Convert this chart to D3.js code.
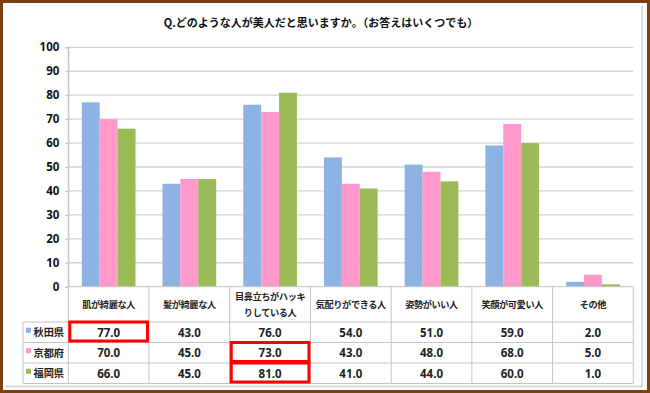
<!DOCTYPE html>
<html><head><meta charset="utf-8">
<script src="https://cdn.jsdelivr.net/npm/d3@7"></script>
<style>
html,body{margin:0;padding:0;background:#fff;}
svg{display:block;font-family:"Noto Sans CJK JP","Noto Sans",sans-serif;font-weight:bold;}
</style></head>
<body><svg id="c" width="650" height="393"></svg>
<script>
const title = "Q.どのような人が美人だと思いますか。（お答えはいくつでも）";
const categories = ["肌が綺麗な人","髪が綺麗な人","目鼻立ちがハッキ\nりしている人","気配りができる人","姿勢がいい人","笑顔が可愛い人","その他"];
const seriesNames = ["秋田県","京都府","福岡県"];
const akita = [77,43,76,54,51,59,2];
const kyoto = [70,45,73,43,48,68,5];
const fukuoka = [66,45,81,41,44,60,1];
const yTicks = [0,10,20,30,40,50,60,70,80,90,100];
const highlights = [[0,0],[1,2],[2,2]]; // [series index, category index]
const colors = ["#8db3e2","#ff99cc","#9bbb59"];

const seriesValues = [akita, kyoto, fukuoka];
const svg = d3.select("#c");
const W = 650, H = 393;
const plotL = 68.3, plotR = 633.3, plotT = 47.3, plotB = 286.7;
const tableL = 23, rowH = 20.5, headerB = 322;

// frame
svg.append("rect").attr("x",0).attr("y",0).attr("width",W).attr("height",H).attr("fill","#fff");
svg.append("path").attr("d",`M642,6V386.5H6`).attr("fill","none").attr("stroke","#d0d0d0").attr("stroke-width",1.5);
svg.append("rect").attr("x",1.5).attr("y",1.5).attr("width",W-3).attr("height",H-3)
  .attr("fill","none").attr("stroke","#7a4010").attr("stroke-width",3);

svg.append("text").attr("x",321).attr("y",27).attr("text-anchor","middle")
  .attr("font-size",11).attr("fill","#111").text(title);

const x0 = d3.scaleBand().domain(d3.range(categories.length)).range([plotL, plotR]).padding(0);
const x1 = d3.scaleBand().domain(d3.range(seriesNames.length)).range([13.5, x0.bandwidth()-13.5]).padding(0);
const y = d3.scaleLinear().domain([0,100]).range([plotB, plotT]);

// gridlines
svg.append("g").selectAll("line").data(yTicks.filter(t=>t>0)).join("line")
  .attr("x1",plotL).attr("x2",plotR).attr("y1",d=>y(d)).attr("y2",d=>y(d))
  .attr("stroke","#d4d4d4").attr("stroke-width",1.3);

// y axis
const yAxis = d3.axisLeft(y).tickValues(yTicks).tickSize(3).tickFormat(d3.format("d"));
const gy = svg.append("g").attr("transform",`translate(${plotL},0)`).call(yAxis);
gy.select(".domain").attr("stroke","#bfbfbf");
gy.selectAll(".tick line").attr("stroke","#bfbfbf");
gy.selectAll(".tick text").attr("font-size",11.5).attr("fill","#111").attr("font-family",'"Noto Sans","DejaVu Sans",sans-serif').attr("font-weight","bold").attr("x",-9);

// bars
seriesValues.forEach((vals,si)=>{
  svg.append("g").selectAll("rect").data(vals).join("rect")
    .attr("x",(d,i)=>x0(i)+x1(si)).attr("width",x1.bandwidth())
    .attr("y",d=>y(d)).attr("height",d=>y(0)-y(d)).attr("fill",colors[si]);
});

// table
const tableB = headerB + rowH*3;
const tg = svg.append("g").attr("stroke","#c4c4c4").attr("stroke-width",1).attr("fill","none");
tg.append("line").attr("x1",plotL).attr("x2",plotR).attr("y1",plotB).attr("y2",plotB);
for (let r=0;r<=3;r++) tg.append("line").attr("x1",tableL).attr("x2",plotR).attr("y1",headerB+r*rowH).attr("y2",headerB+r*rowH);
tg.append("line").attr("x1",tableL).attr("x2",tableL).attr("y1",headerB).attr("y2",tableB);
for (let i=0;i<=categories.length;i++){
  const xx = i<categories.length ? x0(i) : plotR;
  tg.append("line").attr("x1",xx).attr("x2",xx).attr("y1",i===0?plotT:plotB).attr("y2",tableB);
}

// header labels
categories.forEach((c,i)=>{
  const lines = c.split("\n");
  const cx = x0(i)+x0.bandwidth()/2;
  const t = svg.append("text").attr("x",cx).attr("text-anchor","middle").attr("font-size",9.2)
    .attr("letter-spacing",-0.4).attr("fill","#222");
  if (lines.length===1) t.attr("y",308).text(c);
  else lines.forEach((l,k)=>t.append("tspan").attr("x",cx).attr("y",300+k*16).text(l));
});

// legend + values
seriesNames.forEach((s,si)=>{
  const cy = headerB + rowH*si + rowH/2;
  svg.append("rect").attr("x",26).attr("y",cy-4.5).attr("width",5).attr("height",5).attr("fill",colors[si]);
  svg.append("text").attr("x",33.5).attr("y",cy+4).attr("font-size",10.2).attr("fill","#222").text(s);
  seriesValues[si].forEach((v,i)=>{
    svg.append("text").attr("x",x0(i)+x0.bandwidth()/2).attr("y",cy+4.5).attr("text-anchor","middle")
      .attr("font-size",11.5).attr("font-family",'"Noto Sans","DejaVu Sans",sans-serif').attr("fill","#222").text(d3.format(".1f")(v));
  });
});

// highlights
highlights.forEach(([si,ci])=>{
  svg.append("rect").attr("x",x0(ci)+1.5).attr("y",headerB+rowH*si+0).attr("width",x0.bandwidth()-3).attr("height",rowH-1.5)
    .attr("fill","none").attr("stroke","#ff0000").attr("stroke-width",3);
});
</script></body></html>
